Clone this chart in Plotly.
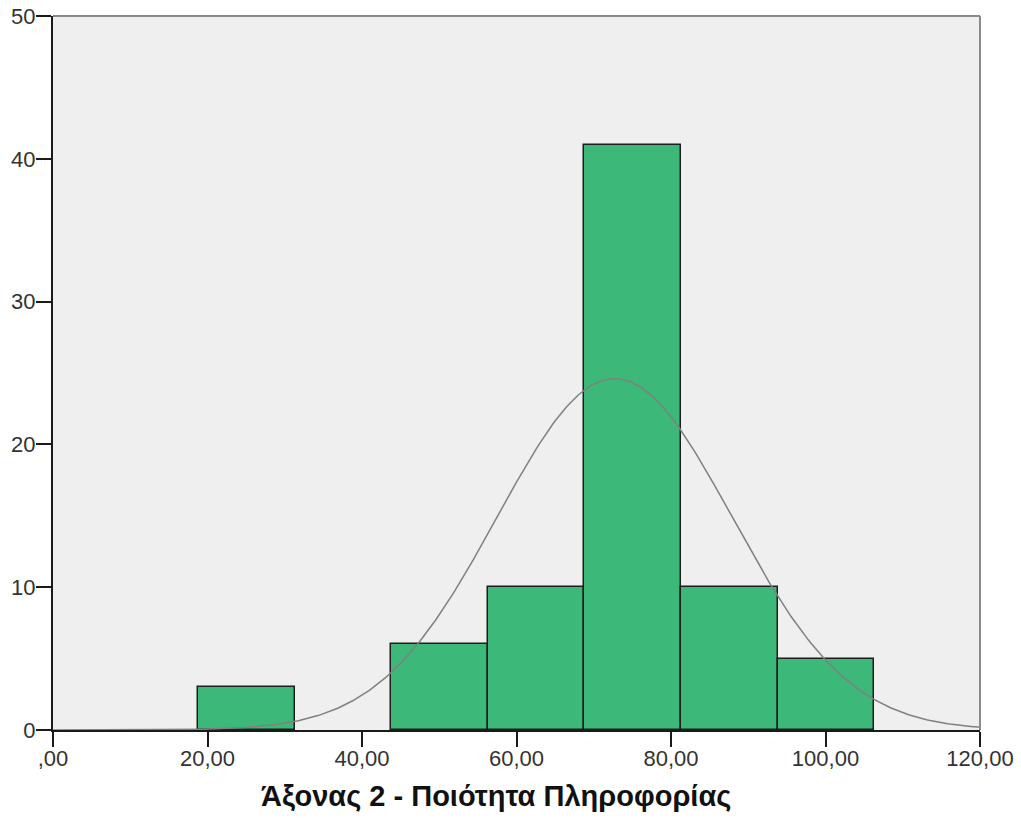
import numpy as np
import plotly.graph_objects as go

# Histogram data
bin_start = 18.8
bin_width = 12.5
counts = [3, 0, 6, 10, 41, 10, 5]

# Fitted normal curve parameters
curve_mean = 72.7
curve_sd = 15.2
n_total = sum(counts)

x_tickvals = [0, 20, 40, 60, 80, 100, 120]
x_ticktext = [",00", "20,00", "40,00", "60,00", "80,00", "100,00", "120,00"]
y_tickvals = [0, 10, 20, 30, 40, 50]

centers = [bin_start + bin_width * (i + 0.5) for i in range(len(counts))]
outline_widths = [1.5 if c > 0 else 0 for c in counts]

xs = np.linspace(0, 120, 400)
ys = n_total * bin_width / (curve_sd * np.sqrt(2 * np.pi)) * np.exp(-0.5 * ((xs - curve_mean) / curve_sd) ** 2)

fig = go.Figure()
fig.add_trace(go.Bar(
    x=centers, y=counts, width=bin_width,
    marker=dict(color="#3cb878", line=dict(color="#1e1e1e", width=outline_widths)),
    hoverinfo="x+y",
))
fig.add_trace(go.Scatter(
    x=xs, y=ys, mode="lines",
    line=dict(color="#808080", width=1.5),
    hoverinfo="skip",
))

font_family = "Liberation Sans, Arial, sans-serif"

fig.update_layout(
    width=1021, height=818,
    margin=dict(l=53, r=41, t=16, b=88),
    paper_bgcolor="white",
    plot_bgcolor="#efefef",
    showlegend=False,
    bargap=0,
    font=dict(family=font_family, size=22, color="#222222"),
    xaxis=dict(
        range=[0, 120], tickvals=x_tickvals, ticktext=x_ticktext,
        showgrid=False, zeroline=False, automargin=False,
        showline=True, linecolor="#1a1a1a", linewidth=2,
        ticks="outside", ticklen=15, tickwidth=2, tickcolor="#1a1a1a",
        ticklabelstandoff=-7, ticklabeloverflow="allow",
        tickfont=dict(size=22, color="#333333"),
    ),
    yaxis=dict(
        range=[0, 50], tickvals=y_tickvals,
        showgrid=False, zeroline=False, automargin=False,
        showline=True, linecolor="#1a1a1a", linewidth=2,
        ticks="outside", ticklen=15, tickwidth=2, tickcolor="#1a1a1a",
        ticklabelstandoff=-4, ticklabeloverflow="allow",
        tickfont=dict(size=22, color="#333333"),
    ),
    shapes=[
        dict(type="line", xref="paper", yref="paper", x0=0, x1=1, y0=1, y1=1,
             line=dict(color="#8a8a8a", width=2)),
        dict(type="line", xref="paper", yref="paper", x0=1, x1=1, y0=0, y1=1,
             line=dict(color="#8a8a8a", width=2)),
    ],
    annotations=[
        dict(text="<b>Άξονας 2 - Ποιότητα Πληροφορίας</b>", xref="x", yref="paper",
             x=57.3, y=0, yshift=-66, xanchor="center", yanchor="middle",
             showarrow=False, font=dict(family=font_family, size=29, color="#111111")),
    ],
)

fig.write_html("out.html", config={"displayModeBar": False},
               post_script="document.body.style.margin='0';")
